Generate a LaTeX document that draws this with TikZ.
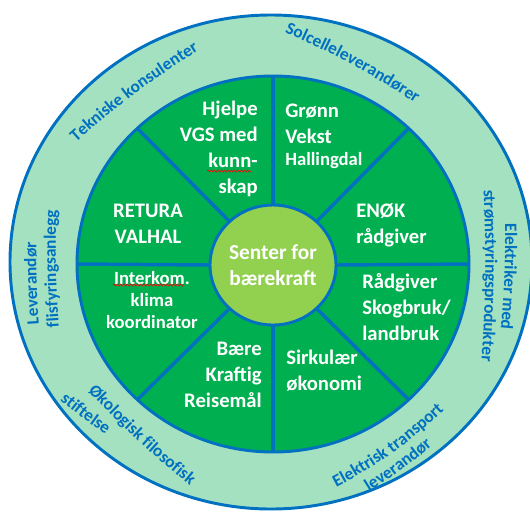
\documentclass[tikz,border=0pt]{standalone}
\usepackage{fontspec}
\setmainfont{Carlito}
\usetikzlibrary{shapes.geometric}
\usetikzlibrary{decorations.text}
\usetikzlibrary{decorations.pathmorphing}

\definecolor{ringblue}{RGB}{0,112,192}
\definecolor{ringmint}{RGB}{164,225,192}
\definecolor{sectorgreen}{RGB}{0,176,80}
\definecolor{hubgreen}{RGB}{146,208,80}

\def\ringfont{\fontsize{13}{15}\selectfont\bfseries}

\begin{document}
\begin{tikzpicture}[x=0.75pt,y=0.75pt,
  disc/.style={ellipse,draw=ringblue,line width=2.2pt,inner sep=0pt,outer sep=0pt},
  spoke/.style={draw=ringblue,line width=2.6pt},
  sectortext/.style={text=white,font=\fontsize{15.5}{19.5}\selectfont\bfseries,inner sep=0pt},
  ringlabel/.style={decorate,decoration={text along path,text color=ringblue,
      text={|\ringfont|#1},text align=center}},
  ringlabelleft/.style={decorate,decoration={text along path,text color=ringblue,
      text={|\ringfont|#1},text align=left}},
  squiggle/.style={draw=red,line width=0.5pt,decorate,
      decoration={snake,amplitude=0.7pt,segment length=2.5pt}}]

\useasboundingbox (-272,-249) rectangle (258,263);

% Outer ring
\node[disc,fill=ringmint,minimum width=391.5pt,minimum height=370.5pt] (outer) at (-1,1) {};

% Inner ring
\node[disc,fill=sectorgreen,minimum width=294pt,minimum height=282pt] (ring) at (1,-1) {};

% Hub
\node[disc,fill=hubgreen,minimum width=94.5pt,minimum height=90pt] (hub) at (1,-2) {};

% Spokes
\draw[spoke] (hub.0) -- (ring.0);
\draw[spoke] (hub.45) -- (ring.45);
\draw[spoke] (hub.90) -- (ring.90);
\draw[spoke] (hub.135) -- (ring.135);
\draw[spoke] (hub.180) -- (ring.180);
\draw[spoke] (hub.225) -- (ring.225);
\draw[spoke] (hub.270) -- (ring.270);
\draw[spoke] (hub.315) -- (ring.315);

% Hub text
\node[sectortext,font=\fontsize{16}{19.5}\selectfont\bfseries,align=center] (hubname) at (hub) {Senter for\\bærekraft};

% Sector texts
\node[sectortext,anchor=east,align=right] (hjelpe) at (-14,114.5) {Hjelpe\\VGS med\\kunn-\\skap};
\node[sectortext,anchor=west,align=left] (gronn) at (13,127) {Grønn\\Vekst\\[-3pt]{\fontsize{14}{17}\selectfont Hallingdal}};
\node[sectortext,anchor=west,align=left] (enok) at (84,37.5) {ENØK\\rådgiver};
\node[sectortext,anchor=west,align=left] (skog) at (90,-44) {Rådgiver\\Skogbruk/\\landbruk};
\node[sectortext,anchor=west,align=left] (sirk) at (14,-108) {Sirkulær\\økonomi};
\node[sectortext,anchor=east,align=right] (baere) at (-10,-111.5) {Bære\\Kraftig\\Reisemål};
\node[sectortext,font=\fontsize{14}{16.5}\selectfont\bfseries,align=center] (interkom) at (-120,-37) {Interkom.\\klima\\koordinator};
\node[sectortext,align=center] (retura) at (-124,39.5) {RETURA\\VALHAL};

% Spelling marks
\draw[squiggle] (-65,92) -- (-21,92);
\draw[squiggle] (-159,-22) -- (-88,-22);

% Ring labels (tops outward)
\path[ringlabel={Tekniske konsulenter}] (-215,103.4) to[bend left=6] (-51,225.6);
\path[ringlabel={Solcelleleverandører}] (-13.8,241.7) to[bend left=6] (167.1,143.8);
\path[ringlabel={Elektriker med}] (232.4,69) to[bend left=4] (225.7,-96);
\path[ringlabel={strømstyringsprodukter}] (210,104) to[bend left=4] (207,-129);
\path[ringlabelleft={Leverandør}] (-233,-61) to[bend left=4] (-233,70);
\path[ringlabelleft={flisfyringsanlegg}] (-213,-64) to[bend left=4] (-213,90);

% Ring labels (tops inward)
\path[ringlabelleft={Økologisk filosofisk}] (-184,-128) to[bend right=4] (-60,-240);
\path[ringlabelleft={stiftelse}] (-212,-137) to[bend right=4] (-138.6,-189.2);
\path[ringlabel={Elektrisk transport}] (34.6,-239.1) to[bend right=10] (196,-123.5);
\path[ringlabel={leverandør}] (67.9,-246.3) to[bend right=6] (185.8,-160.1);

\end{tikzpicture}
\end{document}
